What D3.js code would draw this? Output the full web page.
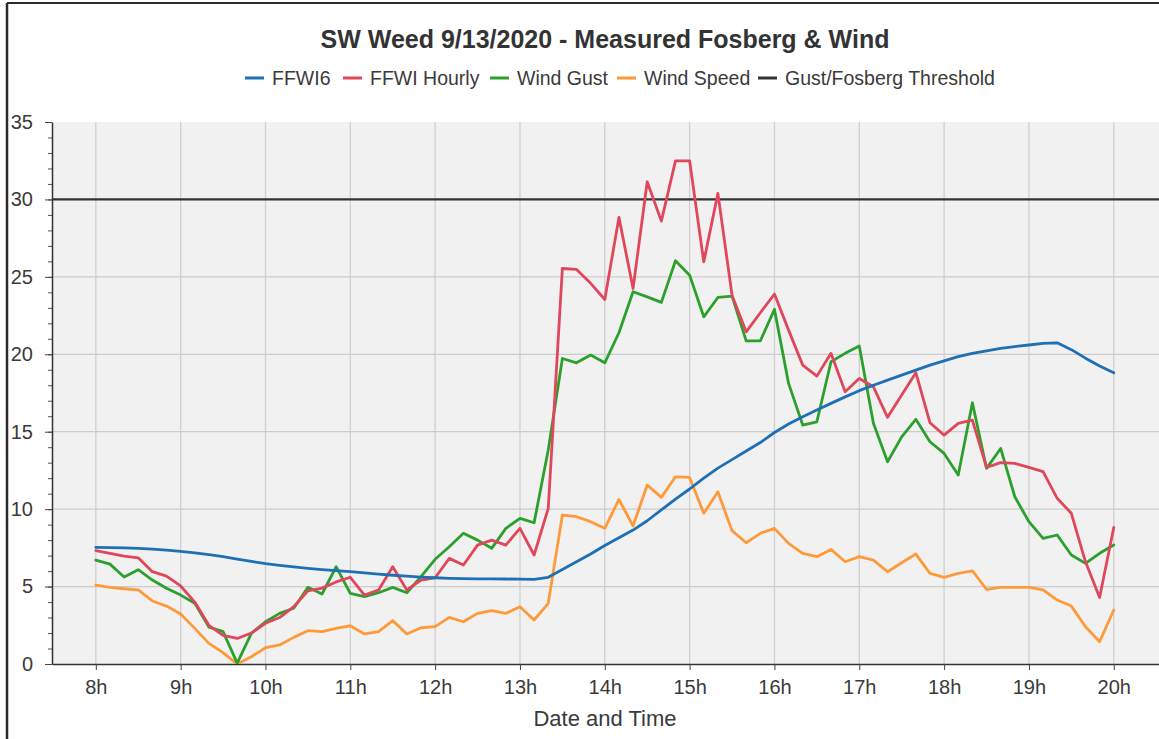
<!DOCTYPE html>
<html>
<head>
<meta charset="utf-8">
<script src="https://cdn.jsdelivr.net/npm/d3@7"></script>
<style>
  html, body { margin: 0; padding: 0; background: #ffffff; }
  svg { display: block; font-family: "Liberation Sans", Arial, Helvetica, sans-serif; }
</style>
</head>
<body>
<svg id="chart" width="1159" height="739"></svg>
<script>
// 10-minute readings, 08:00 to 20:00
const startHour = 8;
const stepMinutes = 10;

const ffwi6 = [
  7.53, 7.52, 7.50, 7.47, 7.42, 7.35, 7.27, 7.18, 7.06, 6.93, 6.78, 6.62, 6.48,
  6.37, 6.27, 6.18, 6.10, 6.03, 5.96, 5.88, 5.80, 5.73, 5.67, 5.61, 5.57,
  5.53, 5.51, 5.50, 5.50, 5.49, 5.48, 5.47, 5.60, 6.10, 6.60, 7.10, 7.65,
  8.15, 8.65, 9.25, 9.95, 10.65, 11.30, 12.00, 12.65, 13.20, 13.75, 14.30, 14.95,
  15.50, 15.97, 16.40, 16.83, 17.25, 17.65, 18.00, 18.33, 18.65, 18.98, 19.30, 19.58,
  19.85, 20.06, 20.22, 20.38, 20.50, 20.60, 20.70, 20.74, 20.30, 19.75, 19.25, 18.80
];

const ffwiHourly = [
  7.32, 7.15, 6.97, 6.86, 5.96, 5.68, 5.04, 4.00, 2.50, 1.85, 1.65, 2.00, 2.63,
  3.00, 3.70, 4.73, 4.90, 5.30, 5.60, 4.45, 4.78, 6.28, 4.78, 5.42, 5.57,
  6.82, 6.39, 7.68, 8.00, 7.68, 8.76, 7.04, 10.05, 25.54, 25.48, 24.58, 23.54,
  28.84, 24.25, 31.14, 28.60, 32.49, 32.49, 25.97, 30.39, 23.82, 21.45, 22.68, 23.89,
  21.56, 19.30, 18.59, 20.06, 17.58, 18.44, 17.90, 15.93, 17.37, 18.81, 15.58, 14.78,
  15.54, 15.75, 12.70, 13.00, 12.95, 12.70, 12.42, 10.70, 9.73, 6.60, 4.30, 8.82
];

const windGust = [
  6.71, 6.45, 5.62, 6.09, 5.42, 4.89, 4.45, 3.92, 2.38, 2.09, 0.06, 1.98, 2.73,
  3.27, 3.60, 4.95, 4.52, 6.28, 4.56, 4.35, 4.60, 4.95, 4.60, 5.64, 6.76,
  7.57, 8.44, 8.00, 7.47, 8.76, 9.40, 9.12, 13.82, 19.73, 19.45, 19.95, 19.45,
  21.39, 24.04, 23.71, 23.35, 26.04, 25.11, 22.42, 23.67, 23.76, 20.87, 20.87, 22.90,
  18.12, 15.43, 15.64, 19.52, 20.06, 20.53, 15.54, 13.06, 14.67, 15.80, 14.35, 13.60,
  12.20, 16.87, 12.63, 13.92, 10.80, 9.19, 8.11, 8.33, 7.04, 6.50, 7.15, 7.68
];

const windSpeed = [
  5.10, 4.95, 4.86, 4.78, 4.07, 3.74, 3.23, 2.30, 1.33, 0.73, 0.00, 0.47, 1.05,
  1.23, 1.72, 2.15, 2.09, 2.30, 2.47, 1.94, 2.09, 2.80, 1.94, 2.34, 2.41,
  3.01, 2.73, 3.27, 3.44, 3.27, 3.70, 2.84, 3.92, 9.62, 9.51, 9.19, 8.76,
  10.63, 8.91, 11.56, 10.76, 12.09, 12.05, 9.73, 11.12, 8.61, 7.83, 8.44, 8.76,
  7.79, 7.15, 6.93, 7.40, 6.60, 6.93, 6.71, 5.96, 6.54, 7.10, 5.85, 5.60,
  5.85, 6.02, 4.82, 4.95, 4.95, 4.95, 4.78, 4.13, 3.74, 2.41, 1.44, 3.49
];

const threshold = 30;

const seriesNames = ["FFWI6", "FFWI Hourly", "Wind Gust", "Wind Speed", "Gust/Fosberg Threshold"];
const seriesColors = ["#1f6fb4", "#e0475b", "#2ca02c", "#ff9a3a", "#333333"];

const yTicks = [0, 5, 10, 15, 20, 25, 30, 35];
const titleText = "SW Weed 9/13/2020 - Measured Fosberg & Wind";
const xAxisTitle = "Date and Time";

// ---------------------------------------------------------------
const svg = d3.select("#chart");
const W = 1159, H = 739;
const plot = { left: 52, top: 122, right: 1159, bottom: 664 };
const textColor = "#3a3a3a";

const day = (h, m) => new Date(2020, 8, 13, h, m);
const times = ffwi6.map((_, i) => day(startHour, i * stepMinutes));

const x = d3.scaleTime()
  .domain([day(7, 29), day(20, 32)])
  .range([plot.left, plot.right]);
const y = d3.scaleLinear()
  .domain([0, 35])
  .range([plot.bottom, plot.top]);

// outer frame
svg.append("rect").attr("x", 0).attr("y", 0).attr("width", W).attr("height", H).attr("fill", "#ffffff");
svg.append("line").attr("x1", 7).attr("x2", W).attr("y1", 3).attr("y2", 3)
  .attr("stroke", "#2a2a2a").attr("stroke-width", 2);
svg.append("line").attr("x1", 7).attr("x2", 7).attr("y1", 3).attr("y2", H)
  .attr("stroke", "#2a2a2a").attr("stroke-width", 2.5);

// plot background
svg.append("rect")
  .attr("x", plot.left).attr("y", plot.top)
  .attr("width", plot.right - plot.left).attr("height", plot.bottom - plot.top)
  .attr("fill", "#f1f1f1");

// grid
const hourTicks = d3.timeHour.range(day(8, 0), day(20, 1));
svg.append("g").selectAll("line").data(hourTicks).join("line")
  .attr("x1", d => x(d)).attr("x2", d => x(d))
  .attr("y1", plot.top).attr("y2", plot.bottom)
  .attr("stroke", "#cfcfcf").attr("stroke-width", 1.3);
svg.append("g").selectAll("line").data(yTicks.filter(v => v > 0 && v < 35)).join("line")
  .attr("x1", plot.left).attr("x2", plot.right)
  .attr("y1", d => y(d)).attr("y2", d => y(d))
  .attr("stroke", "#cccccc").attr("stroke-width", 1.3);

// axes
const yMinor = svg.append("g").attr("transform", `translate(${plot.left},0)`)
  .call(d3.axisLeft(y).tickValues(d3.range(0, 36, 1)).tickSize(4).tickFormat(""));
yMinor.select(".domain").remove();
yMinor.selectAll("line").attr("stroke", "#555");

const yAxis = svg.append("g").attr("transform", `translate(${plot.left},0)`)
  .call(d3.axisLeft(y).tickValues(yTicks).tickSize(7).tickSizeOuter(0).tickPadding(12));
yAxis.select(".domain").attr("stroke", "#333").attr("stroke-width", 1.5);
yAxis.selectAll("line").attr("stroke", "#444");
yAxis.selectAll("text")
  .attr("font-size", 20).attr("fill", textColor)
  .attr("font-family", "'Liberation Sans', Arial, sans-serif");

const xAxis = svg.append("g").attr("transform", `translate(0,${plot.bottom})`)
  .call(d3.axisBottom(x).tickValues(hourTicks).tickSize(6).tickSizeOuter(0).tickPadding(10)
    .tickFormat(d3.timeFormat("%-Hh")));
xAxis.select(".domain").attr("stroke", "#333").attr("stroke-width", 1.5);
xAxis.selectAll("line").attr("stroke", "#444");
xAxis.selectAll("text")
  .attr("font-size", 20).attr("fill", textColor)
  .attr("font-family", "'Liberation Sans', Arial, sans-serif");

// series
const line = d3.line().x((d, i) => x(times[i])).y(d => y(d));
svg.append("clipPath").attr("id", "plotClip").append("rect")
  .attr("x", plot.left).attr("y", plot.top - 2)
  .attr("width", plot.right - plot.left).attr("height", plot.bottom - plot.top + 2);

const lines = svg.append("g").attr("clip-path", "url(#plotClip)");

// threshold line across the whole plot width
lines.append("line")
  .attr("x1", plot.left).attr("x2", plot.right)
  .attr("y1", y(threshold)).attr("y2", y(threshold))
  .attr("stroke", seriesColors[4]).attr("stroke-width", 2.2);

const data = [windSpeed, windGust, ffwiHourly, ffwi6];
const cols = [seriesColors[3], seriesColors[2], seriesColors[1], seriesColors[0]];
data.forEach((vals, k) => {
  lines.append("path")
    .attr("d", line(vals))
    .attr("fill", "none")
    .attr("stroke", cols[k])
    .attr("stroke-width", 2.8)
    .attr("stroke-linejoin", "round")
    .attr("stroke-linecap", "round");
});

// title
svg.append("text")
  .attr("x", 605).attr("y", 48)
  .attr("text-anchor", "middle")
  .attr("font-size", 25).attr("font-weight", "bold").attr("fill", "#333")
  .text(titleText);

// legend
const legendX = [245, 343, 490, 617, 758];
const legend = svg.append("g");
seriesNames.forEach((name, i) => {
  const g = legend.append("g").attr("transform", `translate(${legendX[i]},78)`);
  g.append("line").attr("x1", 0).attr("x2", 19).attr("y1", 0).attr("y2", 0)
    .attr("stroke", seriesColors[i]).attr("stroke-width", 3);
  g.append("text").attr("x", 27).attr("y", 7)
    .attr("font-size", 19.5).attr("fill", textColor)
    .text(name);
});

// x-axis title
svg.append("text")
  .attr("x", 605).attr("y", 726)
  .attr("text-anchor", "middle")
  .attr("font-size", 22).attr("fill", textColor)
  .text(xAxisTitle);
</script>
</body>
</html>
